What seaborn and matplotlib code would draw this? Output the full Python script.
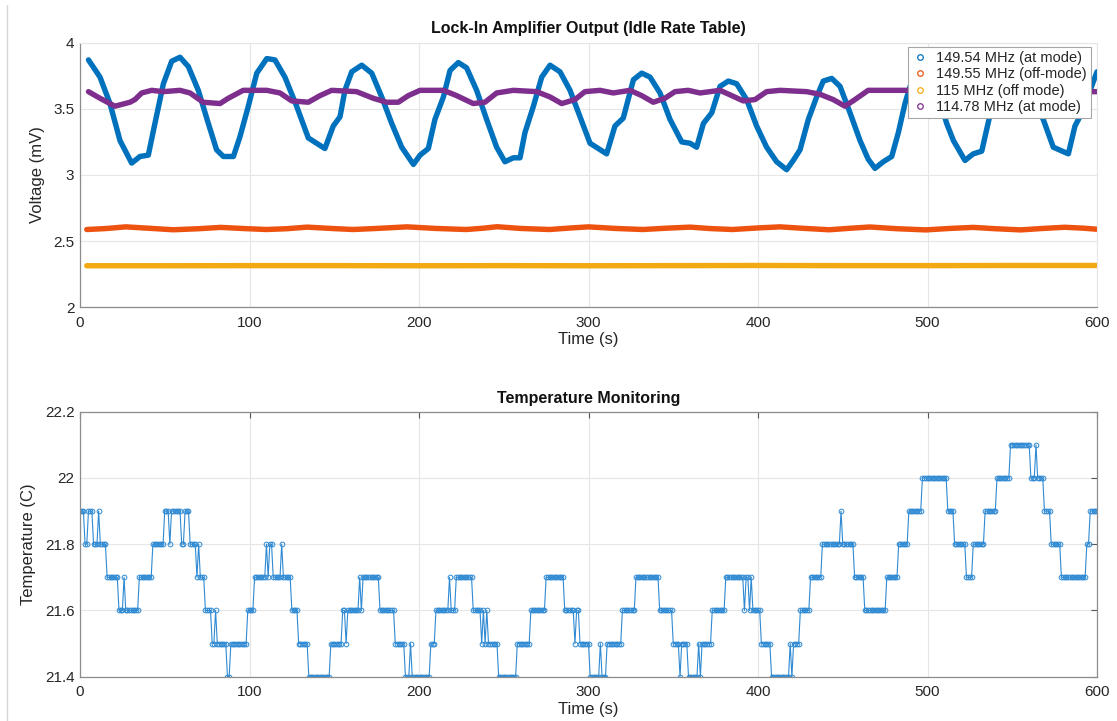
import numpy as np
import pandas as pd
import matplotlib
matplotlib.use("Agg")
import matplotlib.pyplot as plt
import seaborn as sns
from matplotlib.lines import Line2D
from matplotlib.ticker import FuncFormatter

# ---------------- data ----------------
blue_t = [5, 11.8, 17.7, 23.6, 30.5, 35.4, 40.3, 44.2, 49.2, 54.1, 59, 63.9, 69.8, 75.7, 80.6,
          84.6, 90.5, 94.4, 99.3, 104.3, 110.2, 115, 120.9, 127.8, 134.7, 139.6, 144.5, 149.4,
          153.4, 156.3, 160.3, 166.2, 172.1, 178, 183.9, 189.8, 196.7, 200.6, 205.5, 209.4,
          214.4, 218.3, 223.2, 228.1, 234, 239.9, 245.8, 250.7, 255.6, 259.6, 262.5, 267.5,
          272.4, 277.3, 283.2, 289.1, 295, 300.9, 305.8, 310.7, 315.6, 320.5, 326.5, 331.4,
          336.3, 342.2, 348.1, 355, 359.9, 363.8, 367.8, 372.7, 377.6, 382.5, 387.4, 393.3,
          399.2, 405.1, 411, 416.9, 420.8, 424.8, 429.7, 434.6, 438.5, 443.5, 448.4, 454.3,
          460.2, 465, 469, 473.9, 478.9, 482.8, 486.7, 490, 494, 498, 502, 506, 511.3, 515.3,
          522.1, 527, 532, 535.9, 540, 545, 550, 555, 560, 564, 568.3, 574.2, 583.1, 587,
          591.9, 596.8, 600]
blue_v = [3.87, 3.74, 3.54, 3.26, 3.09, 3.14, 3.15, 3.39, 3.69, 3.86, 3.89, 3.82, 3.64, 3.39, 3.19,
          3.14, 3.14, 3.29, 3.52, 3.77, 3.88, 3.87, 3.74, 3.52, 3.28, 3.24, 3.20, 3.37,
          3.44, 3.64, 3.78, 3.83, 3.77, 3.59, 3.39, 3.21, 3.08, 3.15, 3.20, 3.42,
          3.59, 3.79, 3.85, 3.81, 3.64, 3.42, 3.21, 3.10, 3.13, 3.13, 3.32, 3.52,
          3.74, 3.83, 3.78, 3.64, 3.44, 3.24, 3.20, 3.16, 3.37, 3.43, 3.72, 3.77,
          3.74, 3.62, 3.42, 3.25, 3.24, 3.21, 3.39, 3.47, 3.67, 3.71, 3.69, 3.57,
          3.37, 3.21, 3.10, 3.04, 3.11, 3.19, 3.42, 3.59, 3.71, 3.73, 3.67, 3.47,
          3.26, 3.12, 3.05, 3.10, 3.14, 3.32, 3.54, 3.68, 3.80, 3.84, 3.80, 3.62, 3.39, 3.26,
          3.11, 3.16, 3.18, 3.40, 3.62, 3.80, 3.85, 3.80, 3.66, 3.52, 3.42, 3.21, 3.16, 3.37,
          3.49, 3.67, 3.78]

purple_t = [5, 11.8, 20.6, 29.5, 32.4, 36.4, 42.3, 49.2, 59, 64.9, 72.7, 82.6, 87.5, 96.3, 110.2,
            118, 124.9, 134.7, 141.6, 148.5, 163.2, 173, 180.9, 187.8, 193.7, 200.6, 214.4,
            222.2, 232, 238.9, 245.8, 255.6, 269.4, 277.3, 284.2, 292, 297.9, 306.8, 314.6,
            324.5, 331.4, 338.2, 345.1, 351, 358.8, 365.8, 377.6, 384.5, 391.3, 398.2, 405.1,
            413, 428.7, 436.6, 444.4, 451.3, 457.2, 465, 487.7, 495, 503, 508, 514, 520, 532,
            545, 553, 560, 567, 580, 600]
purple_v = [3.63, 3.58, 3.52, 3.55, 3.57, 3.62, 3.64, 3.63, 3.64, 3.62, 3.55, 3.54, 3.58, 3.64, 3.64,
            3.62, 3.56, 3.55, 3.60, 3.64, 3.63, 3.58, 3.55, 3.55, 3.60, 3.64, 3.64,
            3.60, 3.54, 3.55, 3.62, 3.64, 3.63, 3.59, 3.54, 3.57, 3.63, 3.64, 3.62,
            3.64, 3.60, 3.55, 3.58, 3.63, 3.64, 3.62, 3.64, 3.60, 3.56, 3.57, 3.63,
            3.64, 3.63, 3.61, 3.57, 3.52, 3.57, 3.64, 3.64, 3.63, 3.59, 3.55, 3.57, 3.63, 3.64,
            3.62, 3.56, 3.56, 3.62, 3.63, 3.63]

orange_t = [4, 15, 27, 40, 55, 70, 83, 97, 110, 122, 134, 148, 161, 175, 193, 210, 228, 238, 246,
            260, 277, 290, 300, 316, 332, 346, 360, 372, 385, 400, 413, 428, 442, 455, 466, 482,
            499, 513, 527, 540, 555, 568, 581, 592, 600]
orange_v = [2.588, 2.595, 2.608, 2.598, 2.586, 2.594, 2.604, 2.595, 2.588, 2.594, 2.606, 2.596,
            2.588, 2.596, 2.608, 2.596, 2.588, 2.598, 2.609, 2.596, 2.588, 2.600, 2.608, 2.596,
            2.588, 2.598, 2.606, 2.595, 2.588, 2.600, 2.608, 2.596, 2.586, 2.598, 2.607, 2.594,
            2.585, 2.596, 2.604, 2.594, 2.585, 2.596, 2.605, 2.598, 2.590]

yellow_t = [4, 50, 100, 150, 200, 250, 300, 350, 400, 450, 500, 550, 600]
yellow_v = [2.314, 2.314, 2.315, 2.315, 2.314, 2.315, 2.314, 2.315, 2.316, 2.315, 2.315, 2.316, 2.316]

series_labels = ["149.54 MHz (at mode)", "149.55 MHz (off-mode)", "115 MHz (off mode)", "114.78 MHz (at mode)"]
series_colors = ["#0072BD", "#EE5210", "#F3AA12", "#7E2F8E"]

# temperature: level changes (start second, value), sampled once per second
temp_step_t = [0, 3, 5, 8, 11, 12, 16, 23, 26, 27, 35, 43, 50, 53, 54, 60, 62, 65, 69, 70, 71, 74,
               78, 80, 81, 87, 89, 99, 103, 110, 111, 112, 114, 119, 120, 125, 129, 135, 148, 155,
               157, 158, 165, 166, 167, 177, 186, 192, 195, 196, 207, 210, 218, 219, 222, 232, 237,
               238, 239, 240, 241, 247, 258, 266, 275, 286, 292, 293, 295, 301, 307, 308, 311, 320,
               328, 342, 350, 354, 355, 359, 365, 366, 367, 373, 381, 392, 393, 395, 396, 397, 402,
               408, 419, 420, 421, 425, 431, 438, 449, 450, 457, 463, 476, 483, 489, 497, 512, 516,
               523, 527, 534, 541, 549, 561, 564, 565, 569, 573, 579, 594, 596]
temp_step_v = [21.9, 21.8, 21.9, 21.8, 21.9, 21.8, 21.7, 21.6, 21.7, 21.6, 21.7, 21.8, 21.9, 21.8,
               21.9, 21.8, 21.9, 21.8, 21.7, 21.8, 21.7, 21.6, 21.5, 21.6, 21.5, 21.4, 21.5, 21.6,
               21.7, 21.8, 21.7, 21.8, 21.7, 21.8, 21.7, 21.6, 21.5, 21.4, 21.5, 21.6, 21.5, 21.6,
               21.7, 21.6, 21.7, 21.6, 21.5, 21.4, 21.5, 21.4, 21.5, 21.6, 21.7, 21.6, 21.7, 21.6,
               21.5, 21.6, 21.5, 21.6, 21.5, 21.4, 21.5, 21.6, 21.7, 21.6, 21.5, 21.6, 21.5, 21.4,
               21.5, 21.4, 21.5, 21.6, 21.7, 21.6, 21.5, 21.4, 21.5, 21.4, 21.5, 21.4, 21.5, 21.6,
               21.7, 21.6, 21.7, 21.6, 21.7, 21.6, 21.5, 21.4, 21.5, 21.4, 21.5, 21.6, 21.7, 21.8,
               21.9, 21.8, 21.7, 21.6, 21.7, 21.8, 21.9, 22.0, 21.9, 21.8, 21.7, 21.8, 21.9, 22.0,
               22.1, 22.0, 22.1, 22.0, 21.9, 21.8, 21.7, 21.8, 21.9]
temp_color = "#2F8AD3"

top_xticks = [0, 100, 200, 300, 400, 500, 600]
top_yticks = [2, 2.5, 3, 3.5, 4]
bot_yticks = [21.4, 21.6, 21.8, 22.0, 22.2]

# ---------------- style ----------------
sns.set_style("white")
plt.rcParams["font.family"] = ["Liberation Sans", "DejaVu Sans"]
text_c = "#262626"
spine_c = "#8c8c8c"
grid_c = "#e6e6e6"

fig = plt.figure(figsize=(11.17, 7.21), dpi=100)
W, H = 1117, 721
ax1 = fig.add_axes([80 / W, 1 - 307.3 / H, 1017 / W, 264.6 / H])
ax2 = fig.add_axes([80 / W, 1 - 676.7 / H, 1017 / W, 265 / H])

# screenshot border line at left
fig.add_artist(Line2D([7 / W, 7 / W], [0, 1 - 5 / H], color="#d6d6d6", lw=1.0))

fmt = FuncFormatter(lambda v, p: f"{v:g}")

# ---------------- top plot ----------------
data_top = [(blue_t, blue_v), (orange_t, orange_v), (yellow_t, yellow_v), (purple_t, purple_v)]
for (tt, vv), c, lab in zip(data_top, series_colors, series_labels):
    sns.lineplot(x=tt, y=vv, ax=ax1, color=c, linewidth=3.9, estimator=None, sort=False,
                 solid_capstyle="round", solid_joinstyle="round")

ax1.set_xlim(0, 600)
ax1.set_ylim(2, 4)
ax1.set_xticks(top_xticks)
ax1.set_yticks(top_yticks)
ax1.yaxis.set_major_formatter(fmt)
ax1.grid(True, color=grid_c, lw=0.8)
ax1.set_axisbelow(True)
for s in ["left", "bottom"]:
    ax1.spines[s].set_color(spine_c)
    ax1.spines[s].set_linewidth(0.9)
for s in ["top", "right"]:
    ax1.spines[s].set_color(grid_c)
    ax1.spines[s].set_linewidth(0.8)
ax1.tick_params(direction="in", length=4.5, width=0.8, color="#555555", labelsize=11,
                labelcolor=text_c)
ax1.tick_params(axis="x", pad=6)
ax1.tick_params(axis="y", pad=4)
ax1.set_xlabel("Time (s)", fontsize=12, color=text_c, labelpad=2)
ax1.set_ylabel("Voltage (mV)", fontsize=12, color=text_c, labelpad=6)
ax1.set_title("Lock-In Amplifier Output (Idle Rate Table)", fontsize=11.5, fontweight="bold",
              color="#111111", pad=7)

handles = [Line2D([], [], marker="o", linestyle="none", markerfacecolor="none",
                  markeredgecolor=c, markersize=4, markeredgewidth=0.9) for c in series_colors]
leg = ax1.legend(handles, series_labels, loc="upper right", bbox_to_anchor=(0.994, 0.984),
                 borderaxespad=0, fontsize=10.5, frameon=True, fancybox=False, framealpha=1,
                 edgecolor="#a6a6a6", handlelength=1.0, handletextpad=0.6, labelspacing=0.15,
                 borderpad=0.3)
leg.get_frame().set_linewidth(0.8)
for t in leg.get_texts():
    t.set_color(text_c)
leg.set_zorder(10)

# ---------------- bottom plot ----------------
temp_t = np.arange(0, 601)
idx = np.searchsorted(np.array(temp_step_t), temp_t, side="right") - 1
temp_v = np.array(temp_step_v)[idx]
df_temp = pd.DataFrame({"Time": temp_t, "Temp": temp_v})
sns.lineplot(data=df_temp, x="Time", y="Temp", ax=ax2, color=temp_color, linewidth=0.8,
             estimator=None, sort=False, marker="o", markersize=3.4, markerfacecolor="none",
             markeredgecolor=temp_color, markeredgewidth=0.7)

ax2.set_xlim(0, 600)
ax2.set_ylim(21.4, 22.2)
ax2.set_xticks(top_xticks)
ax2.set_yticks(bot_yticks)
ax2.yaxis.set_major_formatter(fmt)
ax2.grid(True, color=grid_c, lw=0.8)
ax2.set_axisbelow(True)
for s in ax2.spines.values():
    s.set_color(spine_c)
    s.set_linewidth(0.9)
ax2.tick_params(direction="in", length=4.5, width=0.8, color="#555555", labelsize=11,
                labelcolor=text_c, top=True, right=True)
ax2.tick_params(axis="x", pad=6)
ax2.tick_params(axis="y", pad=4)
ax2.set_xlabel("Time (s)", fontsize=12, color=text_c, labelpad=2)
ax2.set_ylabel("Temperature (C)", fontsize=12, color=text_c, labelpad=6)
ax2.set_title("Temperature Monitoring", fontsize=11.5, fontweight="bold", color="#111111", pad=6)

fig.savefig("out.png", dpi=100)
